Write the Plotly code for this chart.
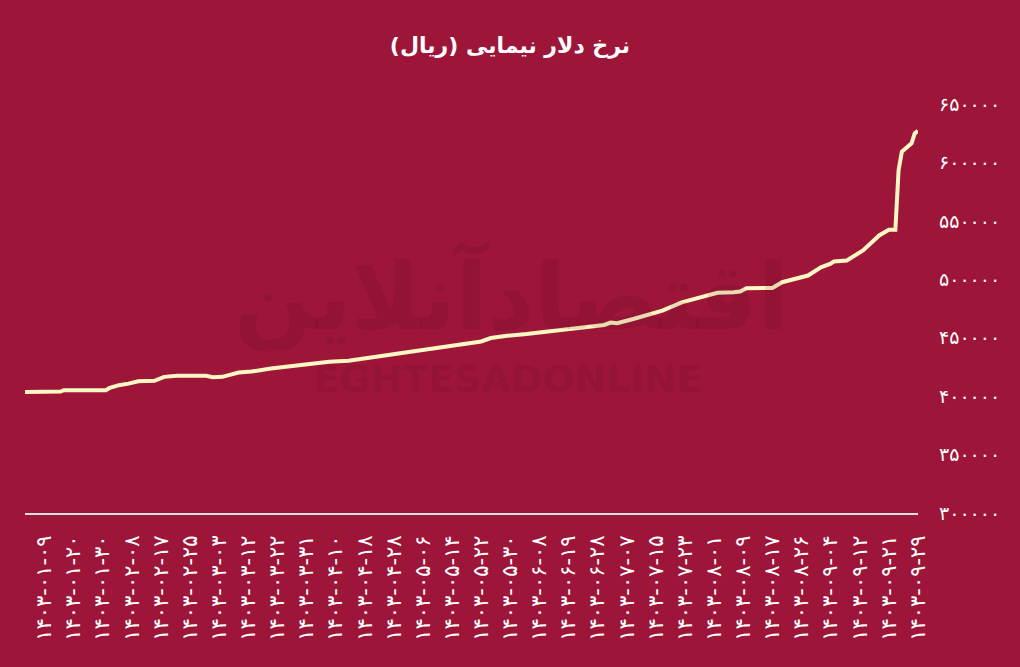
import plotly.graph_objects as go

# --- data (trading-day index, rate in rial) ---
day_index = [0, 11, 12, 25, 26, 29, 32, 35, 40, 43, 47, 56, 58, 61, 66, 70, 76, 84,
             94, 100, 107, 113, 119, 125, 131, 134, 141, 144, 149, 155, 161, 168, 174,
             179, 181, 183, 188, 193, 197, 203, 210, 214, 219, 221, 223, 231, 234, 242,
             246, 249, 250, 254, 259, 264, 267, 269, 270, 271, 274, 275, 276]
rate = [403600, 403900, 405100, 405100, 406800, 409400, 410700, 412800, 413100, 416500,
        417400, 417400, 416200, 416500, 420200, 421000, 423600, 426500, 429400, 430200,
        433100, 435400, 438200, 440300, 442500, 444600, 446800, 449700, 451700, 453200,
        455100, 456600, 458800, 460900, 463000, 462400, 466000, 470200, 473200, 480300,
        485200, 488400, 488900, 489500, 492300, 492600, 497500, 503200, 510300, 513300,
        515300, 516100, 524700, 537500, 542400, 542400, 593300, 609100, 616300, 624900,
        627000]

date_labels = ["۱۴۰۳-۰۱-۰۹", "۱۴۰۳-۰۱-۲۰", "۱۴۰۳-۰۱-۳۰", "۱۴۰۳-۰۲-۰۸", "۱۴۰۳-۰۲-۱۷",
               "۱۴۰۳-۰۲-۲۵", "۱۴۰۳-۰۳-۰۳", "۱۴۰۳-۰۳-۱۲", "۱۴۰۳-۰۳-۲۲", "۱۴۰۳-۰۳-۳۱",
               "۱۴۰۳-۰۴-۱۰", "۱۴۰۳-۰۴-۱۸", "۱۴۰۳-۰۴-۲۸", "۱۴۰۳-۰۵-۰۶", "۱۴۰۳-۰۵-۱۴",
               "۱۴۰۳-۰۵-۲۲", "۱۴۰۳-۰۵-۳۰", "۱۴۰۳-۰۶-۰۸", "۱۴۰۳-۰۶-۱۹", "۱۴۰۳-۰۶-۲۸",
               "۱۴۰۳-۰۷-۰۷", "۱۴۰۳-۰۷-۱۵", "۱۴۰۳-۰۷-۲۳", "۱۴۰۳-۰۸-۰۱", "۱۴۰۳-۰۸-۰۹",
               "۱۴۰۳-۰۸-۱۷", "۱۴۰۳-۰۸-۲۶", "۱۴۰۳-۰۹-۰۴", "۱۴۰۳-۰۹-۱۲", "۱۴۰۳-۰۹-۲۱",
               "۱۴۰۳-۰۹-۲۹"]
date_label_index = [6 + 9 * i for i in range(len(date_labels))]

y_ticks = [300000, 350000, 400000, 450000, 500000, 550000, 600000, 650000]
y_tick_labels = ["۳۰۰۰۰۰", "۳۵۰۰۰۰", "۴۰۰۰۰۰", "۴۵۰۰۰۰", "۵۰۰۰۰۰", "۵۵۰۰۰۰", "۶۰۰۰۰۰", "۶۵۰۰۰۰"]

title = "نرخ دلار نیمایی (ریال)"

BG = "#9d1639"
LINE = "#fdf7c3"
FONT = "DejaVu Sans"

fig = go.Figure()
fig.add_trace(go.Scatter(x=day_index, y=rate, mode="lines",
                         line=dict(color=LINE, width=4), hoverinfo="skip"))

# faint watermark
fig.add_annotation(text="<b>اقتصادآنلاین</b>", xref="paper", yref="paper", x=0.545, y=0.53,
                   showarrow=False, font=dict(family=FONT, size=92, color="rgba(70,0,25,0.11)"))
fig.add_annotation(text="<b>EGHTESADONLINE</b>", xref="paper", yref="paper", x=0.54, y=0.27,
                   showarrow=False, font=dict(family=FONT, size=38, color="rgba(70,0,25,0.11)"))

fig.update_layout(
    width=1020, height=667,
    paper_bgcolor=BG, plot_bgcolor=BG,
    margin=dict(l=25, r=102, t=104, b=154),
    showlegend=False,
    title=dict(text="<b>" + title + "</b>", x=0.5, xanchor="center", y=1 - 45 / 667,
               yanchor="middle", font=dict(family=FONT, size=22, color="white")),
    xaxis=dict(range=[0, 276], tickmode="array", tickvals=date_label_index, ticktext=date_labels,
               tickangle=-90, showgrid=False, zeroline=False, showline=True,
               linecolor="#dedede", linewidth=2, ticks="", ticklabelstandoff=12,
               tickfont=dict(family=FONT, size=21, color="white")),
    yaxis=dict(range=[300000, 650000], side="right", tickmode="array", tickvals=y_ticks,
               ticktext=y_tick_labels, showgrid=False, zeroline=False, showline=False,
               ticks="", ticklabelstandoff=20,
               tickfont=dict(family=FONT, size=19, color="white")),
)

fig.write_html("out.html", config={"displayModeBar": False},
               post_script="document.body.style.margin='0';document.body.style.background='%s';" % BG)
